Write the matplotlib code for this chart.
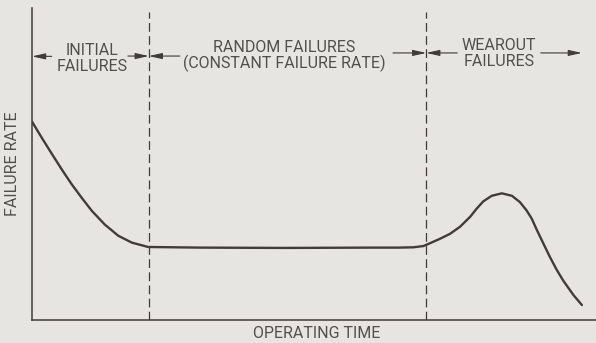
import numpy as np
import matplotlib.pyplot as plt

# bathtub curve, read as (operating time, failure rate) in arbitrary units 0-100
time_pts = [0.0, 1.7, 3.5, 5.3, 7.0, 8.8, 10.6, 12.9, 15.3, 17.7, 20.6,
            30.0, 45.0, 60.0, 65.0, 67.6, 69.4,
            70.3, 72.3, 74.1, 75.9, 77.7, 78.8, 80.0, 81.5, 83.3, 85.1, 86.5,
            87.7, 88.6, 89.5, 90.7, 91.8, 93.0, 94.2, 96.0, 97.5]
rate_pts = [63.6, 58.5, 53.3, 48.2, 43.6, 39.2, 35.0, 30.6, 27.0, 24.8, 23.4,
            23.2, 23.1, 23.2, 23.2, 23.3, 23.7,
            24.4, 26.0, 27.6, 29.9, 33.1, 35.6, 38.0, 39.8, 40.6, 39.8, 37.8,
            35.1, 32.5, 28.9, 24.4, 20.3, 16.2, 12.6, 8.0, 4.8]

# boundaries between the three failure periods
phase_bounds = [20.7, 69.9]

region_labels = [("INITIAL", "FAILURES"),
                 ("RANDOM FAILURES", "(CONSTANT FAILURE RATE)"),
                 ("WEAROUT", "FAILURES")]
label_x = [10.6, 44.7, 82.8]

bg = '#e6e5e1'
ink = '#3f3c39'
txt = '#52504d'
fam = ['Roboto', 'DejaVu Sans']
fs = 11.5

fig = plt.figure(figsize=(5.96, 3.43), dpi=100, facecolor=bg)
ax = fig.add_axes([32/596, 23/343, 564/596, 312/343], facecolor=bg)
ax.set_xlim(0, 100)
ax.set_ylim(0, 100)
for s in ['top', 'right']:
    ax.spines[s].set_visible(False)
for s in ['left', 'bottom']:
    ax.spines[s].set_color(ink)
    ax.spines[s].set_linewidth(1.1)
ax.set_xticks([])
ax.set_yticks([])

# phase boundaries
for xb in phase_bounds:
    ax.plot([xb, xb], [0, 98.7], color=ink, lw=0.9, dashes=(7, 3.5))

ax.plot(time_pts, rate_pts, color=ink, lw=1.7, solid_capstyle='round',
        solid_joinstyle='round')

# region labels
line_y = [[86.5, 81.4], [87.2, 82.4], [88.1, 82.7]]
for (l1, l2), x, (y1, y2) in zip(region_labels, label_x, line_y):
    ax.text(x, y1, l1, ha='center', va='center', fontsize=fs, color=txt, family=fam)
    ax.text(x, y2, l2, ha='center', va='center', fontsize=fs, color=txt, family=fam)

# arrows marking the extent of each period
arrow_kw = dict(arrowstyle='-|>,head_length=0.8,head_width=0.18', color=ink, lw=0.8,
                shrinkA=0, shrinkB=0)
arrows = [(3.5, 0.0, 84.5), (17.0, phase_bounds[0], 84.6), (26.2, phase_bounds[0], 84.6),
          (64.0, phase_bounds[1], 85.6), (75.4, phase_bounds[1], 85.6), (90.2, 97.5, 85.6)]
for x0, x1, y in arrows:
    ax.annotate('', xy=(x1, y), xytext=(x0, y), arrowprops=arrow_kw)

fig.text(13/596, 1 - 164/343, 'FAILURE RATE', rotation=90, ha='center', va='center',
         fontsize=fs, color=txt, family=fam)
fig.text(317/596, 1 - 333/343, 'OPERATING TIME', ha='center', va='center',
         fontsize=fs, color=txt, family=fam)

fig.savefig('out.png', dpi=100, facecolor=bg)
